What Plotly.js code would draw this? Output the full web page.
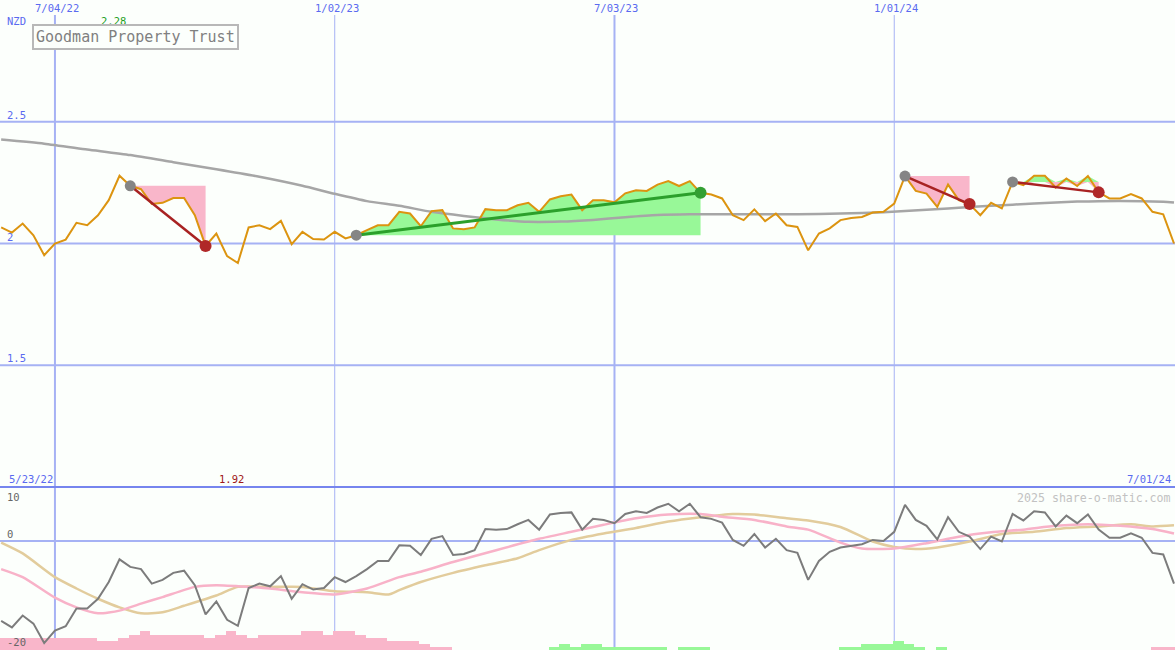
<!DOCTYPE html>
<html>
<head>
<meta charset="utf-8">
<script src="https://cdn.plot.ly/plotly-3.0.1.min.js"></script>
<style>
html,body{margin:0;padding:0;background:#fcfffc;overflow:hidden;}
#chart{width:1175px;height:650px;}
</style>
</head>
<body>
<div id="chart"></div>
<script>
// ---------- DATA ----------
const weekDates = [
'2022-05-30','2022-06-06','2022-06-13','2022-06-20','2022-06-27',
'2022-07-04','2022-07-11','2022-07-18','2022-07-25','2022-08-01',
'2022-08-08','2022-08-15','2022-08-22','2022-08-29','2022-09-05',
'2022-09-12','2022-09-19','2022-09-26','2022-10-03','2022-10-10',
'2022-10-17','2022-10-24','2022-10-31','2022-11-07','2022-11-14',
'2022-11-21','2022-11-28','2022-12-05','2022-12-12','2022-12-19',
'2022-12-26','2023-01-02','2023-01-09','2023-01-16','2023-01-23',
'2023-01-30','2023-02-06','2023-02-13','2023-02-20','2023-02-27',
'2023-03-06','2023-03-13','2023-03-20','2023-03-27','2023-04-03',
'2023-04-10','2023-04-17','2023-04-24','2023-05-01','2023-05-08',
'2023-05-15','2023-05-22','2023-05-29','2023-06-05','2023-06-12',
'2023-06-19','2023-06-26','2023-07-03','2023-07-10','2023-07-17',
'2023-07-24','2023-07-31','2023-08-07','2023-08-14','2023-08-21',
'2023-08-28','2023-09-04','2023-09-11','2023-09-18','2023-09-25',
'2023-10-02','2023-10-09','2023-10-16','2023-10-23','2023-10-30',
'2023-11-06','2023-11-13','2023-11-20','2023-11-27','2023-12-04',
'2023-12-11','2023-12-18','2023-12-25','2024-01-01','2024-01-08',
'2024-01-15','2024-01-22','2024-01-29','2024-02-05','2024-02-12',
'2024-02-19','2024-02-26','2024-03-04','2024-03-11','2024-03-18',
'2024-03-25','2024-04-01','2024-04-08','2024-04-15','2024-04-22',
'2024-04-29','2024-05-06','2024-05-13','2024-05-20','2024-05-27',
'2024-06-03','2024-06-10','2024-06-17','2024-06-24','2024-07-01'
];

const price = [
2.066,2.045,2.082,2.034,1.952,2.000,2.016,2.085,2.075,2.116,
2.178,2.278,2.237,2.223,2.162,2.167,2.187,2.187,2.116,1.990,
2.041,1.948,1.920,2.066,2.075,2.059,2.093,1.997,2.048,2.018,
2.016,2.048,2.021,2.034,2.055,2.075,2.075,2.130,2.123,2.071,
2.133,2.137,2.062,2.059,2.066,2.141,2.137,2.137,2.157,2.167,
2.130,2.181,2.194,2.201,2.137,2.178,2.178,2.169,2.206,2.219,
2.216,2.242,2.256,2.236,2.256,2.208,2.201,2.185,2.116,2.096,
2.140,2.092,2.123,2.075,2.068,1.972,2.041,2.062,2.096,2.105,
2.109,2.127,2.130,2.164,2.277,2.216,2.205,2.150,2.242,2.178,
2.162,2.116,2.167,2.144,2.253,2.240,2.278,2.278,2.230,2.267,
2.236,2.277,2.210,2.185,2.185,2.203,2.185,2.130,2.120,2.000
];

// long moving average (read at selected weeks)
const maIdx = [0,4,8,12,16,20,24,28,31,34,37,40,43,46,49,52,55,58,61,64,68,72,76,80,84,88,92,96,100,104,108,109];
const maValues = [2.427,2.410,2.386,2.363,2.334,2.305,2.274,2.237,2.204,2.174,2.155,2.130,2.113,2.099,2.089,2.090,2.097,2.108,2.117,2.120,2.120,2.120,2.121,2.125,2.133,2.144,2.155,2.164,2.172,2.175,2.171,2.168];

// trend patterns (week index of start / end)
const patternStart = [12, 33, 84, 94];
const patternEnd   = [19, 65, 90, 102];

// lower panel oscillator
const oscValues = [
-14.8,-16.0,-13.8,-15.3,-18.9,-16.6,-15.8,-12.5,-12.5,-10.7,
-7.6,-3.4,-4.8,-5.2,-7.9,-7.2,-5.9,-5.5,-8.2,-13.6,
-11.2,-14.6,-15.7,-8.7,-7.9,-8.4,-6.5,-10.7,-8.0,-9.0,
-8.7,-6.7,-7.6,-6.5,-5.2,-3.7,-3.7,-0.8,-0.9,-2.6,
0.4,0.9,-2.6,-2.4,-1.7,2.2,2.1,2.2,3.1,3.9,
2.1,4.9,5.2,5.3,2.1,4.1,3.9,3.3,5.0,5.5,
5.2,6.2,6.9,5.5,6.9,4.4,4.1,3.4,0.2,-0.9,
1.3,-1.2,0.4,-1.7,-2.2,-7.2,-3.7,-2.0,-1.2,-0.9,
-0.6,0.2,0.0,1.7,6.7,3.9,2.8,0.3,4.4,1.7,
0.8,-1.5,0.8,-0.1,5.0,3.8,5.5,5.3,2.7,4.7,
3.3,4.9,2.1,0.6,0.6,1.4,0.6,-2.2,-2.5,-7.9
];
const pinkIdx = [0,2,5,7,9,11,13,15,18,20,23,25,28,31,34,37,39,42,46,50,53,56,59,62,65,67,70,73,75,78,80,83,86,89,92,95,98,101,104,107,109];
const pinkValues = [-5.2,-6.7,-10.5,-12.3,-13.4,-12.9,-11.6,-10.4,-8.5,-8.2,-8.5,-8.8,-9.5,-9.9,-8.8,-6.7,-5.7,-3.9,-1.7,0.4,1.7,3.0,4.2,4.9,5.0,4.5,3.9,2.7,2.1,-0.3,-1.4,-1.4,-0.4,0.8,1.6,2.1,2.8,3.1,2.8,2.2,1.4];
const tanIdx = [0,2,5,7,9,11,13,15,17,20,22,25,28,31,34,36,37,39,42,45,48,50,53,56,59,62,65,68,70,73,75,78,81,83,85,87,90,93,96,99,102,105,107,109];
const tanValues = [-0.3,-2.3,-6.7,-8.8,-10.7,-12.3,-13.4,-13.2,-12.0,-10.1,-8.5,-8.5,-8.5,-9.3,-9.5,-9.9,-9.1,-7.6,-5.9,-4.5,-3.2,-1.7,0.2,1.4,2.4,3.6,4.4,5.0,4.9,4.2,3.8,2.6,-0.1,-1.1,-1.5,-1.2,-0.1,1.3,1.7,2.4,2.7,3.1,2.7,2.9];
// histogram (negative = pink, positive = green)
const histValues = [
-12,-12,-12,-12,-12,-12,-12,-12,-12,-9,
-9,-12,-15,-19,-15,-15,-15,-15,-15,-12,
-15,-19,-15,-12,-15,-15,-15,-15,-19,-19,
-15,-19,-19,-15,-12,-12,-9,-9,-9,-6,
-3,-3,0,0,0,0,0,0,0,0,
0,3,6,3,6,6,3,3,3,3,
3,3,0,3,3,3,0,0,0,0,
0,0,0,0,0,0,0,0,3,3,
6,6,6,9,6,3,0,3,0,0,
0,0,0,0,0,0,0,0,0,0,
0,0,0,0,0,0,0,-3,-3,-3
];

// labels / ticks
const xTickDates = ['2022-07-04','2023-01-02','2023-07-03','2024-01-01'];
const xTickText  = ['7/04/22','1/02/23','7/03/23','1/01/24'];
const priceTicks = [2.5, 2, 1.5];
const priceTickText = ['2.5','2','1.5'];
const oscTicks = [10, 0, -20];
const oscTickText = ['10','0','-20'];
const currencyLabel = 'NZD';
const chartTitle = 'Goodman Property Trust';
const startDateLabel = '5/23/22';
const endDateLabel = '7/01/24';
const creditLabel = '2025 share-o-matic.com';

// ---------- STYLE ----------
const W = 1175, H = 650;
const LOWER_H = 163;
const BG = '#fcfffc';
const BLUE = '#5a6af0';
const GRID = '#a6b2f4';
const SEP = '#7685ee';
const FONT = 'DejaVu Sans Mono, Liberation Mono, monospace';
const ORANGE = '#dc9410';
const MA_GRAY = '#a6a6a6';
const PINK_FILL = '#f9b6ca';
const GREEN_FILL = '#98f898';
const RED_LINE = '#a82222';
const GREEN_LINE = '#2ba02b';
const RED_DOT = '#b02828';
const GREEN_DOT = '#33a033';
const START_DOT = '#858585';

const traces = [];
const pick = (idx) => idx.map(i => weekDates[i]);

// pattern fills
patternStart.forEach((s, i) => {
  const e = patternEnd[i];
  const xs = weekDates.slice(s, e + 1);
  const seg = price.slice(s, e + 1);
  const level = price[s];
  const base = seg.map(() => level);
  const hidden = {mode:'lines', line:{color:'rgba(0,0,0,0)', width:0}, hoverinfo:'skip', showlegend:false, xaxis:'x', yaxis:'y'};
  traces.push(Object.assign({x:xs, y:base}, hidden));
  traces.push(Object.assign({x:xs, y:seg.map(v => Math.max(v, level)), fill:'tonexty', fillcolor:GREEN_FILL}, hidden));
  traces.push(Object.assign({x:xs, y:base}, hidden));
  traces.push(Object.assign({x:xs, y:seg.map(v => Math.min(v, level)), fill:'tonexty', fillcolor:PINK_FILL}, hidden));
});

// moving average
traces.push({x:pick(maIdx), y:maValues, mode:'lines', line:{color:MA_GRAY, width:2.5, shape:'spline', smoothing:0.6}, xaxis:'x', yaxis:'y', hoverinfo:'skip'});
// price
traces.push({x:weekDates, y:price, mode:'lines', line:{color:ORANGE, width:2}, xaxis:'x', yaxis:'y', hoverinfo:'skip'});

// trend lines and markers
patternStart.forEach((s, i) => {
  const e = patternEnd[i];
  const up = price[e] >= price[s];
  traces.push({x:[weekDates[s], weekDates[e]], y:[price[s], price[e]], mode:'lines',
    line:{color: up ? GREEN_LINE : RED_LINE, width: up ? 3 : 2.5}, xaxis:'x', yaxis:'y', hoverinfo:'skip'});
  traces.push({x:[weekDates[s]], y:[price[s]], mode:'markers',
    marker:{color:START_DOT, size:11}, xaxis:'x', yaxis:'y', hoverinfo:'skip'});
  traces.push({x:[weekDates[e]], y:[price[e]], mode:'markers',
    marker:{color: up ? GREEN_DOT : RED_DOT, size:12}, xaxis:'x', yaxis:'y', hoverinfo:'skip'});
});

// lower panel: histogram bars (y2), lines (y3 overlay)
const DAY = 86400000;
traces.push({type:'bar', x:weekDates, y:histValues.map(v => Math.abs(v)),
  marker:{color:histValues.map(v => v < 0 ? PINK_FILL : GREEN_FILL), line:{width:0}},
  width:7*DAY, offset:-0.9*DAY, xaxis:'x', yaxis:'y2', hoverinfo:'skip'});
traces.push({x:pick(tanIdx), y:tanValues, mode:'lines', line:{color:'#e2cc9c', width:2.5, shape:'spline', smoothing:0.6}, xaxis:'x', yaxis:'y3', hoverinfo:'skip'});
traces.push({x:pick(pinkIdx), y:pinkValues, mode:'lines', line:{color:'#f8b2c8', width:2.5, shape:'spline', smoothing:0.6}, xaxis:'x', yaxis:'y3', hoverinfo:'skip'});
traces.push({x:weekDates, y:oscValues, mode:'lines', line:{color:'#7c7c7c', width:2}, xaxis:'x', yaxis:'y3', hoverinfo:'skip'});

// ---------- SHAPES ----------
const lowerTop = LOWER_H / H;
const shapes = [];
xTickDates.forEach((d, i) => {
  shapes.push({type:'line', xref:'x', x0:d, x1:d, yref:'paper', y0:0, y1:(H - 15) / H,
    line:{color:GRID, width: i % 2 === 0 ? 2 : 1}, layer:'below'});
});
priceTicks.forEach(v => {
  shapes.push({type:'line', xref:'paper', x0:0, x1:1, yref:'y', y0:v, y1:v, line:{color:GRID, width:2}, layer:'below'});
});
shapes.push({type:'line', xref:'paper', x0:0, x1:1, yref:'y3', y0:0, y1:0, line:{color:GRID, width:2}, layer:'below'});
shapes.push({type:'line', xref:'paper', x0:0, x1:1, yref:'paper', y0:lowerTop, y1:lowerTop, line:{color:SEP, width:2}, layer:'below'});

// ---------- ANNOTATIONS ----------
const ann = [];
const txt = (extra) => Object.assign({showarrow:false, borderpad:1}, extra);
xTickDates.forEach((d, i) => {
  ann.push(txt({xref:'x', x:d, yref:'paper', y:1, xanchor:'center', yanchor:'top', xshift:2, yshift:0,
    text:xTickText[i], font:{family:FONT, size:10.5, color:BLUE}}));
});
priceTicks.forEach((v, i) => {
  ann.push(txt({xref:'paper', x:5 / W, xanchor:'left', yref:'y', y:v, yanchor:'bottom', yshift:-1,
    text:priceTickText[i], font:{family:FONT, size:10.5, color:BLUE}}));
});
oscTicks.forEach((v, i) => {
  const atTop = v >= 10;
  ann.push(txt({xref:'paper', x:5 / W, xanchor:'left', yref:'y3', y:v, yanchor: atTop ? 'top' : 'bottom', yshift: atTop ? -2 : -1,
    text:oscTickText[i], font:{family:FONT, size:10.5, color:'#666666'}}));
});
ann.push(txt({xref:'paper', x:5 / W, xanchor:'left', yref:'paper', y:1, yanchor:'top', yshift:-13,
  text:currencyLabel, font:{family:FONT, size:10.5, color:BLUE}}));
const maxV = Math.max(...price), minV = Math.min(...price);
const maxI = price.indexOf(maxV), minI = price.indexOf(minV);
ann.push(txt({xref:'x', x:weekDates[maxI], xanchor:'center', xshift:-6, yref:'paper', y:1, yanchor:'top', yshift:-13,
  text:maxV.toFixed(2), font:{family:FONT, size:10.5, color:'#22a022'}}));
ann.push(txt({xref:'x', x:weekDates[minI], xanchor:'center', xshift:-6, yref:'paper', y:lowerTop, yanchor:'bottom', yshift:0,
  text:minV.toFixed(2), font:{family:FONT, size:10.5, color:'#a01818'}}));
ann.push(txt({xref:'paper', x:7 / W, xanchor:'left', yref:'paper', y:lowerTop, yanchor:'bottom', yshift:0,
  text:startDateLabel, font:{family:FONT, size:10.5, color:BLUE}}));
ann.push(txt({xref:'paper', x:1173 / W, xanchor:'right', yref:'paper', y:lowerTop, yanchor:'bottom', yshift:0,
  text:endDateLabel, font:{family:FONT, size:10.5, color:BLUE}}));
ann.push(txt({xref:'paper', x:1173 / W, xanchor:'right', yref:'paper', y:lowerTop, yanchor:'top', yshift:-2,
  text:creditLabel, font:{family:FONT, size:11.6, color:'#c2c2c2'}}));
ann.push({showarrow:false, xref:'paper', x:32 / W, xanchor:'left', yref:'paper', y:1, yanchor:'top', yshift:-24,
  text:chartTitle, font:{family:FONT, size:15, color:'#808080'},
  bordercolor:'#b8b8b8', borderwidth:2, borderpad:2, bgcolor:BG});

// ---------- LAYOUT ----------
const hiddenAxis = {showgrid:false, zeroline:false, showline:false, showticklabels:false, ticks:'', fixedrange:true};
const layout = {
  width: W, height: H,
  margin:{l:0, r:0, t:0, b:0, pad:0},
  paper_bgcolor: BG, plot_bgcolor: BG,
  showlegend:false,
  xaxis: Object.assign({type:'date', range:['2022-05-29 06:00', '2024-07-01 15:36'], domain:[0,1], anchor:'y'}, hiddenAxis),
  yaxis: Object.assign({range:[1, 3], domain:[lowerTop, 1], anchor:'x'}, hiddenAxis),
  yaxis2: Object.assign({range:[0, LOWER_H], domain:[0, lowerTop], anchor:'x'}, hiddenAxis),
  yaxis3: Object.assign({range:[-20.19, 10], overlaying:'y2', anchor:'x'}, hiddenAxis),
  bargap:0,
  shapes: shapes,
  annotations: ann
};

Plotly.newPlot('chart', traces, layout, {staticPlot:true, displayModeBar:false});
</script>
</body>
</html>
